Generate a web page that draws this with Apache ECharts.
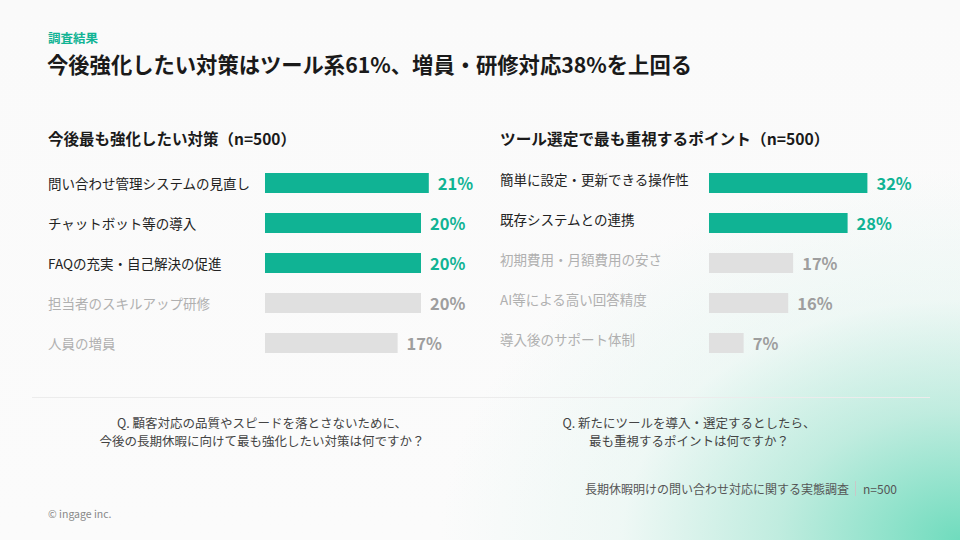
<!doctype html>
<html>
<head>
<meta charset="utf-8">
<title>調査結果</title>
<script src="https://cdn.jsdelivr.net/npm/echarts@6/dist/echarts.min.js"></script>
<style>
    html,body{
        margin: 0;
        width: 100%;
        height: 100%;
    }
    body{
        background:
            radial-gradient(ellipse 520px 370px at 100% 100%, rgba(104,218,186,0.95) 0%, rgba(160,228,208,0.65) 35%, rgba(215,242,234,0.35) 65%, rgba(250,250,250,0) 100%),
            linear-gradient(180deg, #fafafa, #fbfbfb);
    }
    #main{
        width: 960px;
        height: 540px;
    }
</style>
</head>
<body>
<div id="main"></div>
<script>
    // 左: 今後最も強化したい対策
    var leftCategories = ['問い合わせ管理システムの見直し', 'チャットボット等の導入', 'FAQの充実・自己解決の促進', '担当者のスキルアップ研修', '人員の増員'];
    var leftValues = [21, 20, 20, 20, 17];
    var leftHighlight = [true, true, true, false, false];

    // 右: ツール選定で最も重視するポイント
    var rightCategories = ['簡単に設定・更新できる操作性', '既存システムとの連携', '初期費用・月額費用の安さ', 'AI等による高い回答精度', '導入後のサポート体制'];
    var rightValues = [32, 28, 17, 16, 7];
    var rightHighlight = [true, true, false, false, false];

    var TEAL = '#10b394', GRAY_BAR = '#e0e0e0';
    var FONT = '"Noto Sans CJK JP", "Noto Sans", sans-serif';

    function barData(values, hl) {
        return values.map(function (v, i) {
            return {
                value: v,
                itemStyle: { color: hl[i] ? TEAL : GRAY_BAR },
                label: { color: hl[i] ? TEAL : '#9e9e9e' }
            };
        });
    }

    function catAxis(idx, cats, hl, margin, lifted) {
        var label = {
            align: 'left', margin: margin, fontSize: 13.5, fontFamily: FONT,
            color: function (val, i) { return hl[i] ? '#222' : '#b0b0b0'; }
        };
        if (lifted) {
            // 右側のラベルはバー中心より少し上
            label.verticalAlign = 'bottom';
            label.lineHeight = 9;
        }
        return {
            type: 'category', gridIndex: idx, data: cats, inverse: true,
            axisLine: { show: false }, axisTick: { show: false },
            axisLabel: label
        };
    }

    function barSeries(idx, values, hl) {
        return {
            type: 'bar', xAxisIndex: idx, yAxisIndex: idx, barWidth: 20,
            data: barData(values, hl),
            label: {
                show: true, position: 'right', distance: 9, formatter: '{c}%',
                fontSize: 16.5, fontWeight: 'bold', fontFamily: FONT
            },
            silent: true
        };
    }

    function txt(x, y, text, size, color, weight, align) {
        return {
            type: 'text', x: x, y: y, silent: true,
            style: {
                text: text, fill: color, align: align || 'left', verticalAlign: 'middle',
                font: (weight || 'normal') + ' ' + size + 'px ' + FONT
            }
        };
    }

    var chart = echarts.init(document.getElementById('main'), null, { renderer: 'svg' });

    var option = {
        backgroundColor: 'transparent',
        animation: false,
        textStyle: { fontFamily: FONT },
        grid: [
            { left: 265, top: 163, width: 195, height: 200 },
            { left: 709, top: 163, width: 198, height: 200 }
        ],
        xAxis: [
            { type: 'value', gridIndex: 0, min: 0, max: 25, show: false },
            { type: 'value', gridIndex: 1, min: 0, max: 40, show: false }
        ],
        yAxis: [
            catAxis(0, leftCategories, leftHighlight, 217, false),
            catAxis(1, rightCategories, rightHighlight, 209, true)
        ],
        series: [
            barSeries(0, leftValues, leftHighlight),
            barSeries(1, rightValues, rightHighlight)
        ],
        graphic: [
            txt(48, 37, '調査結果', 12.5, TEAL, 'bold'),
            txt(47, 63, '今後強化したい対策はツール系61%、増員・研修対応38%を上回る', 21.3, '#1a1a1a', 'bold'),
            txt(48, 138, '今後最も強化したい対策（n=500）', 15.5, '#1a1a1a', 'bold'),
            txt(500, 138, 'ツール選定で最も重視するポイント（n=500）', 15.7, '#1a1a1a', 'bold'),
            {
                type: 'line', silent: true,
                shape: { x1: 32, y1: 397.5, x2: 930, y2: 397.5 },
                style: { stroke: '#ececec', lineWidth: 1 }
            },
            txt(262, 422, 'Q. 顧客対応の品質やスピードを落とさないために、', 12.5, '#444', 'normal', 'center'),
            txt(262, 440.5, '今後の長期休暇に向けて最も強化したい対策は何ですか？', 12.5, '#444', 'normal', 'center'),
            txt(689, 422, 'Q. 新たにツールを導入・選定するとしたら、', 12.5, '#444', 'normal', 'center'),
            txt(689, 440.5, '最も重視するポイントは何ですか？', 12.5, '#444', 'normal', 'center'),
            txt(849, 488, '長期休暇明けの問い合わせ対応に関する実態調査', 12, '#555', 'normal', 'right'),
            {
                type: 'line', silent: true,
                shape: { x1: 855.5, y1: 481, x2: 855.5, y2: 496 },
                style: { stroke: '#c8c8c8', lineWidth: 1 }
            },
            txt(897, 488, 'n=500', 12, '#555', 'normal', 'right'),
            txt(48, 513, '© ingage inc.', 10.5, '#888')
        ]
    };

    chart.setOption(option);
</script>
</body>
</html>
